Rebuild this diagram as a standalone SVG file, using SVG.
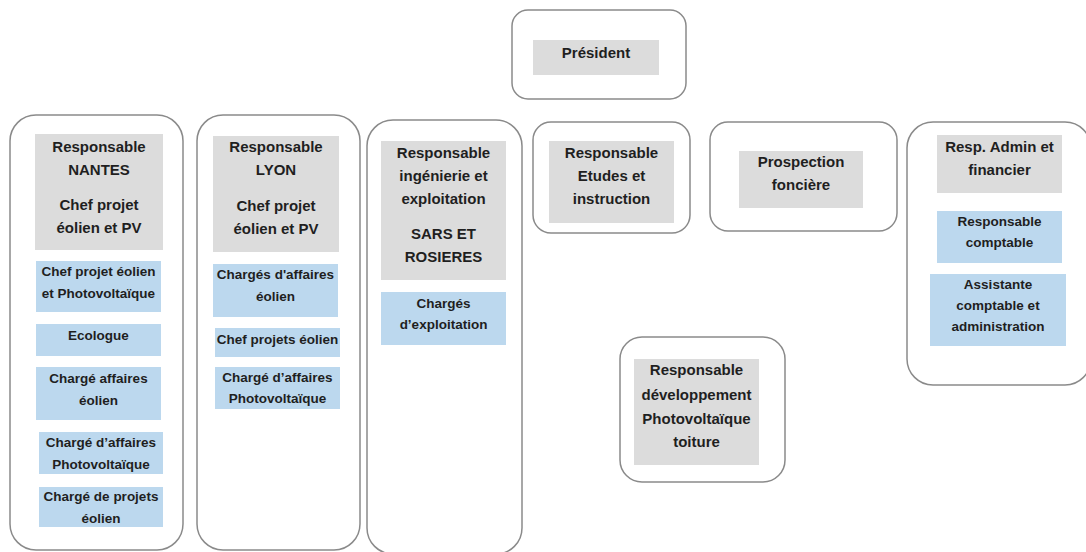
<svg xmlns="http://www.w3.org/2000/svg" width="1086" height="552" viewBox="0 0 1086 552">
<style>
.frame{fill:#fff;stroke:#8a8a8a;stroke-width:1.5}
.g{fill:#dcdcdc}
.b{fill:#bcd8ee}
text{font-family:"Liberation Sans",Arial,sans-serif;font-weight:bold;fill:#1f1f1f;text-anchor:middle}
.h{font-size:15px}
.s{font-size:13.5px}
</style>
<rect width="1086" height="552" fill="#fff"/>
<g id="president">
<rect class="frame" x="512" y="10" width="174" height="89" rx="16"/>
<rect class="g" x="533" y="40" width="126" height="35"/>
<text class="h" x="596" y="58">Président</text>
</g>
<g id="nantes">
<rect class="frame" x="10" y="115" width="173" height="435" rx="26"/>
<rect class="g" x="35" y="134" width="128" height="116"/>
<text class="h" x="99" y="152">Responsable</text>
<text class="h" x="99" y="175">NANTES</text>
<text class="h" x="99" y="210">Chef projet</text>
<text class="h" x="99" y="233">éolien et PV</text>
<rect class="b" x="36" y="261" width="125" height="51"/>
<text class="s" x="98.5" y="276">Chef projet éolien</text>
<text class="s" x="98.5" y="298">et Photovoltaïque</text>
<rect class="b" x="36" y="324" width="125" height="32"/>
<text class="s" x="98.5" y="340">Ecologue</text>
<rect class="b" x="36" y="367" width="125" height="53"/>
<text class="s" x="98.5" y="383">Chargé affaires</text>
<text class="s" x="98.5" y="405">éolien</text>
<rect class="b" x="39" y="432" width="124" height="42"/>
<text class="s" x="101" y="447">Chargé d’affaires</text>
<text class="s" x="101" y="469">Photovoltaïque</text>
<rect class="b" x="39" y="487" width="124" height="40"/>
<text class="s" x="101" y="501">Chargé de projets</text>
<text class="s" x="101" y="523">éolien</text>
</g>
<g id="lyon">
<rect class="frame" x="197" y="115" width="163" height="435" rx="26"/>
<rect class="g" x="213" y="136" width="126" height="116"/>
<text class="h" x="276" y="152">Responsable</text>
<text class="h" x="276" y="175">LYON</text>
<text class="h" x="276" y="211">Chef projet</text>
<text class="h" x="276" y="234">éolien et PV</text>
<rect class="b" x="213" y="264" width="125" height="53"/>
<text class="s" x="275.5" y="279">Chargés d'affaires</text>
<text class="s" x="275.5" y="301">éolien</text>
<rect class="b" x="215" y="328" width="125" height="29"/>
<text class="s" x="277.5" y="344">Chef projets éolien</text>
<rect class="b" x="215" y="367" width="125" height="42"/>
<text class="s" x="277.5" y="382">Chargé d’affaires</text>
<text class="s" x="277.5" y="403">Photovoltaïque</text>
</g>
<g id="ingenierie">
<rect class="frame" x="367" y="120" width="155" height="434" rx="26"/>
<rect class="g" x="381" y="141" width="125" height="139"/>
<text class="h" x="443.5" y="158">Responsable</text>
<text class="h" x="443.5" y="181">ingénierie et</text>
<text class="h" x="443.5" y="204">exploitation</text>
<text class="h" x="443.5" y="239">SARS ET</text>
<text class="h" x="443.5" y="262">ROSIERES</text>
<rect class="b" x="381" y="292" width="125" height="53"/>
<text class="s" x="443.5" y="308">Chargés</text>
<text class="s" x="443.5" y="329">d’exploitation</text>
</g>
<g id="etudes">
<rect class="frame" x="533" y="122" width="157" height="111" rx="18"/>
<rect class="g" x="549" y="141" width="125" height="82"/>
<text class="h" x="611.5" y="158">Responsable</text>
<text class="h" x="611.5" y="181">Etudes et</text>
<text class="h" x="611.5" y="204">instruction</text>
</g>
<g id="prospection">
<rect class="frame" x="710" y="122" width="187" height="109" rx="18"/>
<rect class="g" x="739" y="151" width="124" height="57"/>
<text class="h" x="801" y="167">Prospection</text>
<text class="h" x="801" y="190">foncière</text>
</g>
<g id="admin">
<rect class="frame" x="907" y="122" width="184" height="263" rx="26"/>
<rect class="g" x="937" y="135" width="125" height="58"/>
<text class="h" x="999.5" y="152">Resp. Admin et</text>
<text class="h" x="999.5" y="175">financier</text>
<rect class="b" x="937" y="211" width="125" height="52"/>
<text class="s" x="999.5" y="226">Responsable</text>
<text class="s" x="999.5" y="247">comptable</text>
<rect class="b" x="930" y="274" width="136" height="72"/>
<text class="s" x="998" y="289">Assistante</text>
<text class="s" x="998" y="310">comptable et</text>
<text class="s" x="998" y="331">administration</text>
</g>
<g id="photovoltaique">
<rect class="frame" x="620" y="337" width="165" height="145" rx="22"/>
<rect class="g" x="634" y="359" width="125" height="106"/>
<text class="h" x="696.5" y="375">Responsable</text>
<text class="h" x="696.5" y="400">développement</text>
<text class="h" x="696.5" y="424">Photovoltaïque</text>
<text class="h" x="696.5" y="447">toiture</text>
</g>
<g id="connectors"></g>
</svg>
